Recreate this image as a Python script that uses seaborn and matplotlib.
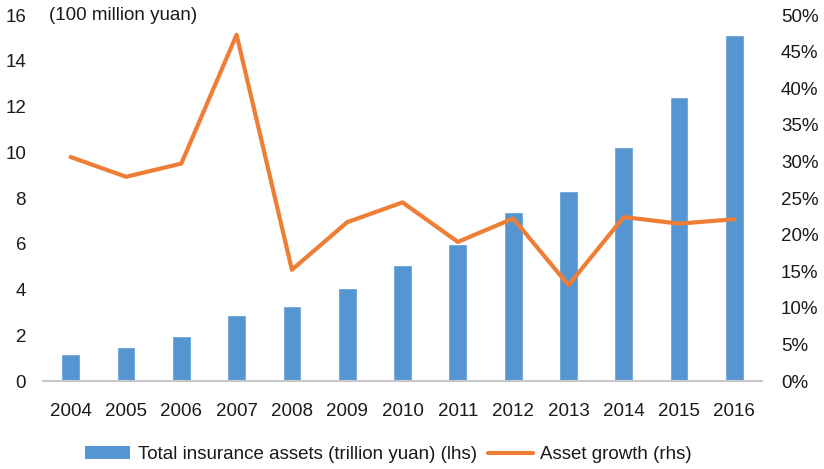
import numpy as np
import pandas as pd
import matplotlib
matplotlib.use("Agg")
import matplotlib.pyplot as plt
import seaborn as sns
from matplotlib.patches import Patch
from matplotlib.lines import Line2D
from matplotlib.ticker import PercentFormatter

years = ["2004", "2005", "2006", "2007", "2008", "2009", "2010",
         "2011", "2012", "2013", "2014", "2015", "2016"]
assets = [1.19, 1.50, 1.97, 2.88, 3.30, 4.07, 5.08,
          6.01, 7.40, 8.30, 10.22, 12.42, 15.12]
growth = [30.6, 27.9, 29.7, 47.3, 15.2, 21.7, 24.4,
          19.0, 22.2, 13.1, 22.4, 21.5, 22.1]

left_ticks = [0, 2, 4, 6, 8, 10, 12, 14, 16]
right_ticks = [0, 5, 10, 15, 20, 25, 30, 35, 40, 45, 50]

bar_label = "Total insurance assets (trillion yuan) (lhs)"
line_label = "Asset growth (rhs)"
unit_label = "(100 million yuan)"

sns.set_theme(style="white")
plt.rcParams["font.family"] = ["Liberation Sans", "DejaVu Sans"]

blue = "#5596D2"
orange = "#EE7D36"
text_color = "#1a1a1a"

df = pd.DataFrame({"year": years, "assets": assets, "growth": growth,
                   "pos": np.arange(len(years))})

fig = plt.figure(figsize=(8.24, 4.69), dpi=100)
ax = fig.add_axes([0.0522, 0.1876, 0.8726, 0.7804])

sns.barplot(data=df, x="year", y="assets", color=blue, width=0.34,
            saturation=1, ax=ax)
ax.set_xlim(-0.5, len(years) - 0.5)
ax.set_ylim(0, 16)
ax.set_yticks(left_ticks)
ax.set_xlabel("")
ax.set_ylabel("")

ax2 = ax.twinx()
sns.lineplot(data=df, x="pos", y="growth", color=orange, linewidth=3.0,
             ax=ax2, legend=False)
ax2.set_ylim(0, 50)
ax2.set_yticks(right_ticks)
ax2.yaxis.set_major_formatter(PercentFormatter(decimals=0))
ax2.set_xlabel("")
ax2.set_ylabel("")
ax2.set_xlim(-0.5, len(years) - 0.5)

for a in (ax, ax2):
    for s in ("top", "left", "right"):
        a.spines[s].set_visible(False)
    a.spines["bottom"].set_visible(True)
    a.spines["bottom"].set_color("#c8c8c8")
    a.spines["bottom"].set_linewidth(1.5)
    a.tick_params(length=0, labelsize=13.5, colors=text_color)

ax.tick_params(axis="y", pad=12.2)
ax.tick_params(axis="x", pad=16)
ax2.tick_params(axis="y", pad=13.7)

ax.text(0.008, 1.0, unit_label, transform=ax.transAxes, ha="left",
        va="center", fontsize=13.5, color=text_color)

handles = [Patch(facecolor=blue, edgecolor="none"),
           Line2D([0], [0], color=orange, linewidth=3.0)]
fig.legend(handles, [bar_label, line_label], loc="center",
           bbox_to_anchor=(0.4715, 0.03), ncol=2, frameon=False,
           fontsize=13.5, handlelength=2.4, handleheight=0.7,
           handletextpad=0.4, columnspacing=0.6, labelcolor=text_color)

fig.savefig("out.png", dpi=100)
